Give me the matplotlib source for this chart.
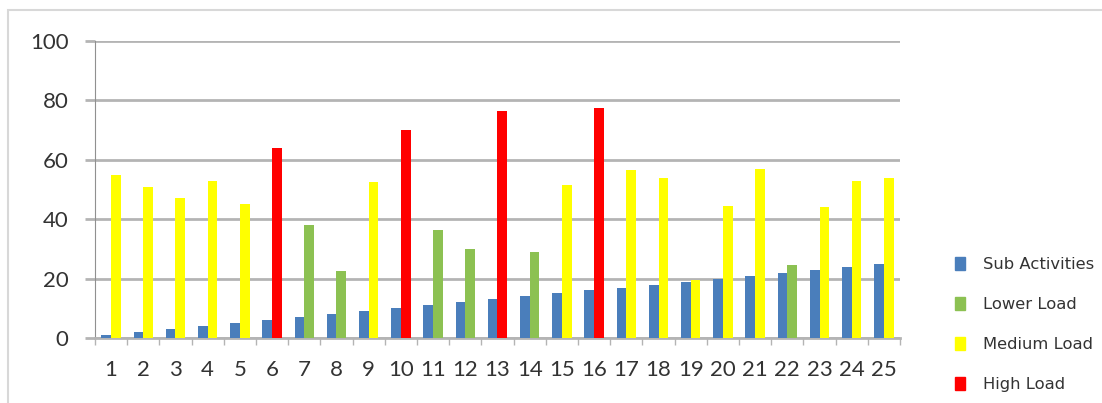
import matplotlib.pyplot as plt
from matplotlib.patches import Patch, Rectangle
import numpy as np

categories = [str(i) for i in range(1, 26)]
sub_activities = [1, 2, 3, 4, 5, 6, 7, 8, 9, 10, 11, 12, 13,
                  14, 15, 16, 17, 18, 19, 20, 21, 22, 23, 24, 25]
load_values = [55, 51, 47, 53, 45, 64, 38, 22.5, 52.5, 70, 36.5, 30, 76.5,
               29, 51.5, 77.5, 56.5, 54, 19.5, 44.5, 57, 24.5, 44, 53, 54]
load_levels = ['Medium', 'Medium', 'Medium', 'Medium', 'Medium', 'High',
               'Lower', 'Lower', 'Medium', 'High', 'Lower', 'Lower', 'High',
               'Lower', 'Medium', 'High', 'Medium', 'Medium', 'Medium',
               'Medium', 'Medium', 'Lower', 'Medium', 'Medium', 'Medium']

blue = '#4a7ebb'
level_colors = {'Lower': '#8cc152', 'Medium': '#ffff00', 'High': '#ff0000'}
grid_col = '#b4b4b4'

fig = plt.figure(figsize=(11.02, 4.03), dpi=100)
ax = fig.add_axes([0.0862, 0.1613, 0.7305, 0.737])

# light frame around the whole chart
fig.patches.append(Rectangle((0.007, -0.1), 1.1, 1.075, transform=fig.transFigure,
                             fill=False, edgecolor='#d8d8d8', linewidth=1.5))

x = np.arange(len(categories))
w = 0.3
ax.bar(x - w / 2, sub_activities, w, color=blue, zorder=3)
ax.bar(x + w / 2, load_values, w,
       color=[level_colors[l] for l in load_levels], zorder=3)

ax.set_xlim(-0.5, len(categories) - 0.5)
ax.set_ylim(0, 100)
ax.set_yticks(range(0, 101, 20))
ax.yaxis.grid(True, color=grid_col, linewidth=2, zorder=0)
ax.set_axisbelow(True)

ax.set_xticks(x)
ax.set_xticklabels(categories)
ax.set_xticks(np.arange(-0.5, len(categories), 1), minor=True)
ax.tick_params(axis='x', which='major', length=0, pad=16)
ax.tick_params(axis='x', which='minor', length=5, color=grid_col, width=1)
ax.tick_params(axis='y', length=7, color=grid_col, width=2, pad=12)
for lab in ax.get_xticklabels() + ax.get_yticklabels():
    lab.set_fontfamily('Lato')
    lab.set_fontsize(16)
    lab.set_color('#333333')

for s in ['top', 'right']:
    ax.spines[s].set_visible(False)
ax.spines['left'].set_color('#909090')
ax.spines['bottom'].set_color(grid_col)
ax.spines['bottom'].set_linewidth(2)

handles = [Patch(color=blue, label='Sub Activities'),
           Patch(color=level_colors['Lower'], label='Lower Load'),
           Patch(color=level_colors['Medium'], label='Medium Load'),
           Patch(color=level_colors['High'], label='High Load')]
fig.legend(handles=handles, loc='upper left', bbox_to_anchor=(0.853, 0.398),
           frameon=False, fontsize=11.8, handlelength=0.6, handleheight=0.8,
           labelspacing=1.52, handletextpad=1.1, labelcolor='#333333')

fig.savefig('out.png', dpi=100)
